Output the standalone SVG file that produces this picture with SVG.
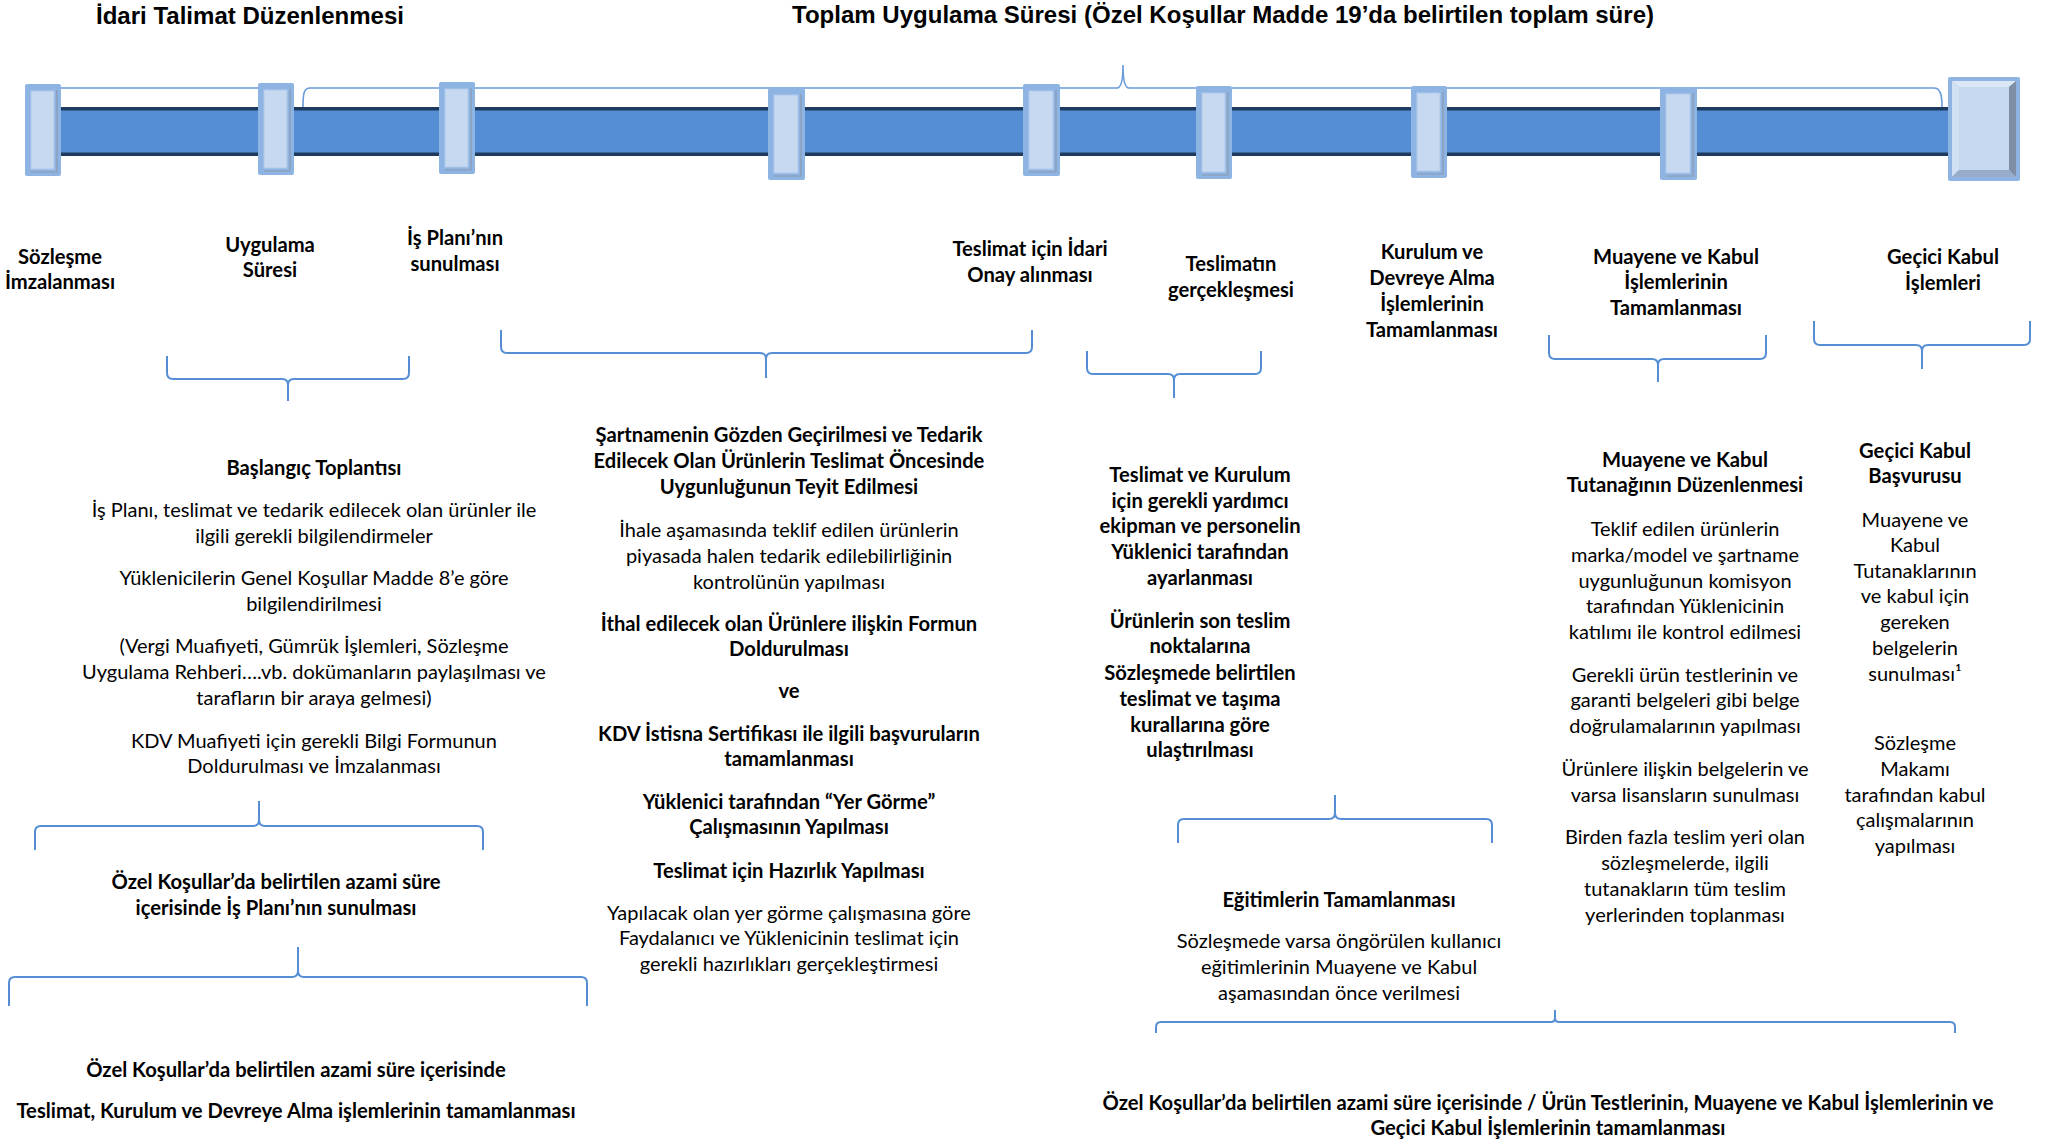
<svg xmlns="http://www.w3.org/2000/svg" width="2053" height="1141" viewBox="0 0 2053 1141">
<style>
.bg{fill:#ffffff}
.bar{fill:#558ED5}
.bare{fill:#1F3A5F}
.mo{fill:#8EB4E3}
.mi{fill:#C6D9F1;stroke:#B1C9EA;stroke-width:1}
.msh{fill:none;stroke:#8C9AAE;stroke-width:1.2}
.br{fill:none;stroke:#558ED5;stroke-width:2;stroke-linejoin:round}
.tl{fill:none;stroke:#6A9BDA;stroke-width:1.6}
.ti{font-family:"Liberation Sans",Arial,sans-serif;font-weight:bold;font-size:23.5px;fill:#000}
.b{font-family:Lato,"Open Sans","DejaVu Sans",sans-serif;font-weight:bold;font-size:20.2px;fill:#000;text-anchor:middle}
.r{font-family:Lato,"Open Sans","DejaVu Sans",sans-serif;font-weight:normal;font-size:20px;fill:#000;text-anchor:middle}
</style>
<rect class="bg" x="0" y="0" width="2053" height="1141"/>

<g id="titles">
<text class="ti" x="96" y="24" textLength="308" lengthAdjust="spacingAndGlyphs">İdari Talimat Düzenlenmesi</text>
<text class="ti" x="792" y="23" textLength="862" lengthAdjust="spacingAndGlyphs">Toplam Uygulama Süresi (Özel Koşullar Madde 19’da belirtilen toplam süre)</text>
</g>

<g id="connectors">
<path class="tl" d="M56 116 V90 Q56 88 58 88 H262 Q266 88 266 94 V107"/>
<path class="tl" d="M303 107 C303 93 304 88 310 88 H1117 C1121 88 1123 82 1123 65 C1123 82 1125 88 1129 88 H1934 C1940 88 1942 94 1942 107"/>
<path class="br" d="M167 356 V373 Q167 379 173 379 H282 Q288 379 288 385 V401 M288 385 Q288 379 294 379 H403 Q409 379 409 373 V356"/>
<path class="br" d="M501 330 V347 Q501 353 507 353 H760 Q766 353 766 359 V378 M766 359 Q766 353 772 353 H1026 Q1032 353 1032 347 V330"/>
<path class="br" d="M1087 351 V368 Q1087 374 1093 374 H1168 Q1174 374 1174 380 V398 M1174 380 Q1174 374 1180 374 H1255 Q1261 374 1261 368 V351"/>
<path class="br" d="M1549 335 V353 Q1549 359 1555 359 H1652 Q1658 359 1658 365 V382 M1658 365 Q1658 359 1664 359 H1760 Q1766 359 1766 353 V335"/>
<path class="br" d="M1814 321 V339 Q1814 345 1820 345 H1916 Q1922 345 1922 351 V369 M1922 351 Q1922 345 1928 345 H2024 Q2030 345 2030 339 V321"/>
<path class="br" d="M35 850 V832 Q35 826 41 826 H253 Q259 826 259 820 V801 M259 820 Q259 826 265 826 H477 Q483 826 483 832 V850"/>
<path class="br" d="M9 1006 V983 Q9 977 15 977 H292 Q298 977 298 971 V947 M298 971 Q298 977 304 977 H581 Q587 977 587 983 V1006"/>
<path class="br" d="M1178 843 V825 Q1178 819 1184 819 H1329 Q1335 819 1335 813 V795 M1335 813 Q1335 819 1341 819 H1486 Q1492 819 1492 825 V843"/>
<path class="br" d="M1156 1033 V1027 Q1156 1022 1161 1022 H1551 Q1555 1022 1555 1018 V1010 M1555 1018 Q1555 1022 1559 1022 H1950 Q1955 1022 1955 1027 V1033"/>
</g>

<g id="timeline">
<rect class="bar" x="43" y="107" width="1906" height="49"/>
<rect class="bare" x="43" y="107" width="1906" height="3.5"/>
<rect class="bare" x="43" y="152.5" width="1906" height="3.5"/>
</g>

<g id="m1"><rect class="mo" x="25" y="84" width="36" height="92" rx="2"/><rect class="mi" x="31" y="91" width="23" height="78"/><path class="msh" d="M57 90 V172 H31"/></g>
<g id="m2"><rect class="mo" x="258" y="83" width="36" height="92" rx="2"/><rect class="mi" x="264" y="90" width="23" height="78"/><path class="msh" d="M290 89 V171 H264"/></g>
<g id="m3"><rect class="mo" x="439" y="82" width="36" height="92" rx="2"/><rect class="mi" x="445" y="89" width="23" height="78"/><path class="msh" d="M471 88 V170 H445"/></g>
<g id="m4"><rect class="mo" x="768" y="88" width="37" height="92" rx="2"/><rect class="mi" x="774" y="95" width="24" height="78"/><path class="msh" d="M801 94 V176 H774"/></g>
<g id="m5"><rect class="mo" x="1023" y="84" width="37" height="92" rx="2"/><rect class="mi" x="1029" y="91" width="24" height="78"/><path class="msh" d="M1056 90 V172 H1029"/></g>
<g id="m6"><rect class="mo" x="1196" y="86" width="36" height="93" rx="2"/><rect class="mi" x="1202" y="93" width="23" height="79"/><path class="msh" d="M1228 92 V175 H1202"/></g>
<g id="m7"><rect class="mo" x="1411" y="86" width="36" height="92" rx="2"/><rect class="mi" x="1417" y="93" width="23" height="78"/><path class="msh" d="M1443 92 V174 H1417"/></g>
<g id="m8"><rect class="mo" x="1660" y="87" width="37" height="93" rx="2"/><rect class="mi" x="1666" y="94" width="24" height="79"/><path class="msh" d="M1693 93 V176 H1666"/></g>
<g id="m9">
<rect class="mo" x="1948" y="77" width="72" height="104" rx="2"/>
<polygon fill="#DCE7F5" points="1952,81 2016,81 2009,87 1959,87"/>
<polygon fill="#D2E0F3" points="1952,81 1959,87 1959,170 1952,177"/>
<polygon fill="#7F8EA4" points="2016,81 2016,177 2009,170 2009,87"/>
<polygon fill="#98ABC9" points="1952,177 1959,170 2009,170 2016,177"/>
<rect fill="#C6D9F1" x="1959" y="87" width="50" height="83"/>
</g>

<g id="lbl-sozlesme"><text class="b" x="60" y="264">Sözleşme</text><text class="b" x="60" y="289">İmzalanması</text></g>
<g id="lbl-uygulama"><text class="b" x="270" y="252">Uygulama</text><text class="b" x="270" y="277">Süresi</text></g>
<g id="lbl-isplani"><text class="b" x="455" y="245">İş Planı’nın</text><text class="b" x="455" y="271">sunulması</text></g>
<g id="lbl-idarionay"><text class="b" x="1030" y="256">Teslimat için İdari</text><text class="b" x="1030" y="282">Onay alınması</text></g>
<g id="lbl-teslimat"><text class="b" x="1231" y="271">Teslimatın</text><text class="b" x="1231" y="297">gerçekleşmesi</text></g>
<g id="lbl-kurulum"><text class="b" x="1432" y="259">Kurulum ve</text><text class="b" x="1432" y="285">Devreye Alma</text><text class="b" x="1432" y="311">İşlemlerinin</text><text class="b" x="1432" y="337">Tamamlanması</text></g>
<g id="lbl-muayene"><text class="b" x="1676" y="264">Muayene ve Kabul</text><text class="b" x="1676" y="289">İşlemlerinin</text><text class="b" x="1676" y="315">Tamamlanması</text></g>
<g id="lbl-gecici"><text class="b" x="1943" y="264">Geçici Kabul</text><text class="b" x="1943" y="290">İşlemleri</text></g>

<g id="blk-baslangic">
<text class="b" x="314" y="475">Başlangıç Toplantısı</text>
<text class="r" x="314" y="517">İş Planı, teslimat ve tedarik edilecek olan ürünler ile</text>
<text class="r" x="314" y="543">ilgili gerekli bilgilendirmeler</text>
<text class="r" x="314" y="585">Yüklenicilerin Genel Koşullar Madde 8’e göre</text>
<text class="r" x="314" y="611">bilgilendirilmesi</text>
<text class="r" x="314" y="653">(Vergi Muafiyeti, Gümrük İşlemleri, Sözleşme</text>
<text class="r" x="314" y="679">Uygulama Rehberi….vb. dokümanların paylaşılması ve</text>
<text class="r" x="314" y="705">tarafların bir araya gelmesi)</text>
<text class="r" x="314" y="748">KDV Muafiyeti için gerekli Bilgi Formunun</text>
<text class="r" x="314" y="773">Doldurulması ve İmzalanması</text>
</g>

<g id="blk-isplani-sure">
<text class="b" x="276" y="889">Özel Koşullar’da belirtilen azami süre</text>
<text class="b" x="276" y="915">içerisinde İş Planı’nın sunulması</text>
</g>

<g id="blk-teslimat-sure">
<text class="b" x="296" y="1077">Özel Koşullar’da belirtilen azami süre içerisinde</text>
<text class="b" x="296" y="1118">Teslimat, Kurulum ve Devreye Alma işlemlerinin tamamlanması</text>
</g>

<g id="blk-sartname">
<text class="b" x="789" y="442">Şartnamenin Gözden Geçirilmesi ve Tedarik</text>
<text class="b" x="789" y="468">Edilecek Olan Ürünlerin Teslimat Öncesinde</text>
<text class="b" x="789" y="494">Uygunluğunun Teyit Edilmesi</text>
<text class="r" x="789" y="537">İhale aşamasında teklif edilen ürünlerin</text>
<text class="r" x="789" y="563">piyasada halen tedarik edilebilirliğinin</text>
<text class="r" x="789" y="589">kontrolünün yapılması</text>
<text class="b" x="789" y="631">İthal edilecek olan Ürünlere ilişkin Formun</text>
<text class="b" x="789" y="656">Doldurulması</text>
<text class="b" x="789" y="698">ve</text>
<text class="b" x="789" y="741">KDV İstisna Sertifikası ile ilgili başvuruların</text>
<text class="b" x="789" y="766">tamamlanması</text>
<text class="b" x="789" y="809">Yüklenici tarafından “Yer Görme”</text>
<text class="b" x="789" y="834">Çalışmasının Yapılması</text>
<text class="b" x="789" y="878">Teslimat için Hazırlık Yapılması</text>
<text class="r" x="789" y="920">Yapılacak olan yer görme çalışmasına göre</text>
<text class="r" x="789" y="945">Faydalanıcı ve Yüklenicinin teslimat için</text>
<text class="r" x="789" y="971">gerekli hazırlıkları gerçekleştirmesi</text>
</g>

<g id="blk-teslimat">
<text class="b" x="1200" y="482">Teslimat ve Kurulum</text>
<text class="b" x="1200" y="508">için gerekli yardımcı</text>
<text class="b" x="1200" y="533">ekipman ve personelin</text>
<text class="b" x="1200" y="559">Yüklenici tarafından</text>
<text class="b" x="1200" y="585">ayarlanması</text>
<text class="b" x="1200" y="628">Ürünlerin son teslim</text>
<text class="b" x="1200" y="653">noktalarına</text>
<text class="b" x="1200" y="680">Sözleşmede belirtilen</text>
<text class="b" x="1200" y="706">teslimat ve taşıma</text>
<text class="b" x="1200" y="732">kurallarına göre</text>
<text class="b" x="1200" y="757">ulaştırılması</text>
</g>

<g id="blk-egitim">
<text class="b" x="1339" y="907">Eğitimlerin Tamamlanması</text>
<text class="r" x="1339" y="948">Sözleşmede varsa öngörülen kullanıcı</text>
<text class="r" x="1339" y="974">eğitimlerinin Muayene ve Kabul</text>
<text class="r" x="1339" y="1000">aşamasından önce verilmesi</text>
</g>

<g id="blk-muayene">
<text class="b" x="1685" y="467">Muayene ve Kabul</text>
<text class="b" x="1685" y="492">Tutanağının Düzenlenmesi</text>
<text class="r" x="1685" y="536">Teklif edilen ürünlerin</text>
<text class="r" x="1685" y="562">marka/model ve şartname</text>
<text class="r" x="1685" y="588">uygunluğunun komisyon</text>
<text class="r" x="1685" y="613">tarafından Yüklenicinin</text>
<text class="r" x="1685" y="639">katılımı ile kontrol edilmesi</text>
<text class="r" x="1685" y="682">Gerekli ürün testlerinin ve</text>
<text class="r" x="1685" y="707">garanti belgeleri gibi belge</text>
<text class="r" x="1685" y="733">doğrulamalarının yapılması</text>
<text class="r" x="1685" y="776">Ürünlere ilişkin belgelerin ve</text>
<text class="r" x="1685" y="802">varsa lisansların sunulması</text>
<text class="r" x="1685" y="844">Birden fazla teslim yeri olan</text>
<text class="r" x="1685" y="870">sözleşmelerde, ilgili</text>
<text class="r" x="1685" y="896">tutanakların tüm teslim</text>
<text class="r" x="1685" y="922">yerlerinden toplanması</text>
</g>

<g id="blk-gecici">
<text class="b" x="1915" y="458">Geçici Kabul</text>
<text class="b" x="1915" y="483">Başvurusu</text>
<text class="r" x="1915" y="527">Muayene ve</text>
<text class="r" x="1915" y="552">Kabul</text>
<text class="r" x="1915" y="578">Tutanaklarının</text>
<text class="r" x="1915" y="603">ve kabul için</text>
<text class="r" x="1915" y="629">gereken</text>
<text class="r" x="1915" y="655">belgelerin</text>
<text class="r" x="1915" y="681">sunulması¹</text>
<text class="r" x="1915" y="750">Sözleşme</text>
<text class="r" x="1915" y="776">Makamı</text>
<text class="r" x="1915" y="802">tarafından kabul</text>
<text class="r" x="1915" y="827">çalışmalarının</text>
<text class="r" x="1915" y="853">yapılması</text>
</g>

<g id="blk-final">
<text class="b" x="1548" y="1110">Özel Koşullar’da belirtilen azami süre içerisinde / Ürün Testlerinin, Muayene ve Kabul İşlemlerinin ve</text>
<text class="b" x="1548" y="1135">Geçici Kabul İşlemlerinin tamamlanması</text>
</g>
</svg>
